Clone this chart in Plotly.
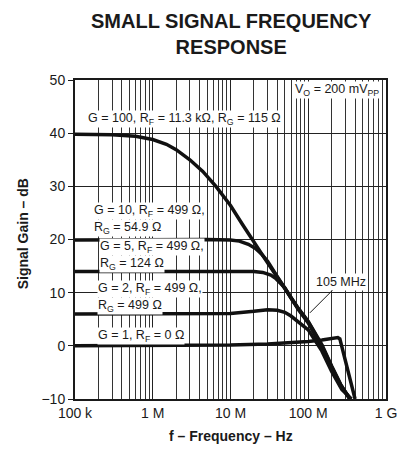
import plotly.graph_objects as go

# ---------------- data (frequency in Hz, gain in dB) ----------------
g100_f = [1e5, 3e5, 6e5, 1e6, 1.5e6, 2e6, 3e6, 4.4e6, 6.5e6, 1e7, 1.4e7, 2e7, 3e7, 4e7, 5e7, 7.5e7, 1e8, 1.5e8, 2e8, 2.6e8, 3.4e8]
g100_db = [39.8, 39.7, 39.4, 38.8, 37.9, 36.9, 35.0, 32.8, 30.0, 26.4, 23.0, 19.4, 15.6, 12.9, 10.8, 7.0, 4.6, 0.2, -3.8, -7.2, -10.0]

g10_f = [1e5, 1e6, 5e6, 1e7, 1.3e7, 1.7e7, 2.1e7, 2.5e7, 3e7, 4e7, 5e7, 7.5e7, 1e8, 1.5e8, 2e8, 2.6e8, 3.45e8]
g10_db = [19.9, 20.0, 20.0, 19.9, 19.7, 19.1, 18.3, 17.3, 15.9, 13.0, 10.9, 6.9, 4.5, 0.0, -4.0, -7.3, -10.0]

g5_f = [1e5, 1e6, 1e7, 2e7, 2.6e7, 3.3e7, 3.8e7, 4.4e7, 5e7, 6e7, 7.5e7, 1e8, 1.5e8, 2e8, 2.6e8, 3.5e8]
g5_db = [14.0, 14.0, 14.0, 14.0, 13.8, 13.3, 12.7, 11.8, 10.9, 9.0, 6.8, 4.3, -0.3, -4.3, -7.5, -10.0]

g2_f = [1e5, 1e6, 1e7, 2e7, 3e7, 4e7, 5e7, 6e7, 7e7, 8.5e7, 1e8, 1.5e8, 2e8, 2.7e8, 3.6e8]
g2_db = [6.0, 6.0, 6.1, 6.5, 6.8, 6.7, 6.3, 5.6, 4.8, 3.9, 3.0, -1.0, -4.8, -8.2, -10.0]

g1_f = [1e5, 1e6, 1e7, 3e7, 5e7, 1e8, 1.5e8, 1.85e8, 2.2e8, 2.4e8, 2.55e8, 4.0e8]
g1_db = [0.0, 0.0, 0.15, 0.35, 0.5, 0.8, 1.1, 1.3, 1.5, 1.55, 1.3, -10.0]

x_tickvals = [1e5, 1e6, 1e7, 1e8, 1e9]
x_ticktext = ["100 k", "1 M", "10 M", "100 M", "1 G"]
x_minor = [m * d for d in [1e5, 1e6, 1e7, 1e8] for m in range(2, 10)]

FONT = "Liberation Sans, Arial, Helvetica, sans-serif"
INK = "#1a1a1a"

fig = go.Figure()
for f, db in [(g100_f, g100_db), (g10_f, g10_db), (g5_f, g5_db), (g2_f, g2_db), (g1_f, g1_db)]:
    fig.add_trace(go.Scatter(x=f, y=db, mode="lines",
                             line=dict(color="#111111", width=3.5),
                             showlegend=False, hoverinfo="skip"))

fig.update_xaxes(type="log", range=[5, 9], tickvals=x_tickvals, ticktext=x_ticktext,
                 showgrid=True, gridcolor="#222222", gridwidth=1,
                 minor=dict(tickvals=x_minor, showgrid=True, gridcolor="#333333", gridwidth=1, ticks=""),
                 showline=True, linecolor=INK, linewidth=2, mirror=True,
                 ticks="", tickfont=dict(size=14, color=INK, family=FONT), zeroline=False)
fig.update_yaxes(range=[-10, 50], dtick=10, showgrid=True, gridcolor="#222222", gridwidth=1,
                 showline=True, linecolor=INK, linewidth=2, mirror=True,
                 ticks="outside", ticklen=5, tickcolor=INK, tickwidth=1,
                 tickfont=dict(size=14, color=INK, family=FONT), zeroline=False)


def px(x):
    return (x - 75) / 319.0


def py(y):
    return (399 - y) / 319.0


ann_font = dict(size=12.5, color=INK, family=FONT)
labels = [
    ("V<sub>O</sub> = 200 mV<sub>PP</sub>", 388, 90, "right"),
    ("G = 100, R<sub>F</sub> = 11.3 kΩ, R<sub>G</sub> = 115 Ω", 87, 119, "left"),
    ("G = 10, R<sub>F</sub> = 499 Ω,", 93, 211, "left"),
    ("R<sub>G</sub> = 54.9 Ω", 93, 228, "left"),
    ("G = 5, R<sub>F</sub> = 499 Ω,", 100, 247, "left"),
    ("R<sub>G</sub> = 124 Ω", 100, 264, "left"),
    ("G = 2, R<sub>F</sub> = 499 Ω,", 98, 289, "left"),
    ("R<sub>G</sub> = 499 Ω", 98, 306, "left"),
    ("G = 1, R<sub>F</sub> = 0 Ω", 98, 336, "left"),
]
for text, x, y, anchor in labels:
    fig.add_annotation(text=text, xref="paper", yref="paper", x=px(x), y=py(y),
                       xanchor=anchor, yanchor="middle", align="left", showarrow=False,
                       font=ann_font, bgcolor="white", borderpad=0)

fig.add_annotation(text="105 MHz", x=8.021, y=6.2, xref="x", yref="y",
                   showarrow=True, arrowhead=0, arrowwidth=1, arrowcolor=INK,
                   ax=31, ay=-31, font=ann_font, bgcolor="white", borderpad=1)

# title and axis titles
fig.add_annotation(text="<b>SMALL SIGNAL FREQUENCY<br>RESPONSE</b>", xref="paper", yref="paper",
                   x=px(236), y=py(34), xanchor="center", yanchor="middle", showarrow=False,
                   font=dict(size=20, color=INK, family=FONT))
fig.add_annotation(text="<b>f – Frequency – Hz</b>", xref="paper", yref="paper",
                   x=0.5, y=py(436), xanchor="center", yanchor="middle", showarrow=False,
                   font=dict(size=14, color=INK, family=FONT))
fig.add_annotation(text="<b>Signal Gain – dB</b>", xref="paper", yref="paper",
                   x=px(22), y=py(234), xanchor="center", yanchor="middle", showarrow=False,
                   textangle=-90, font=dict(size=14, color=INK, family=FONT))

fig.update_layout(
    width=409, height=451,
    margin=dict(l=75, r=15, t=80, b=52),
    paper_bgcolor="white", plot_bgcolor="white",
    font=dict(family=FONT, color=INK),
)

fig.write_html("out.html", config={"displayModeBar": False},
               post_script="document.body.style.margin='0';document.body.style.padding='0';")
